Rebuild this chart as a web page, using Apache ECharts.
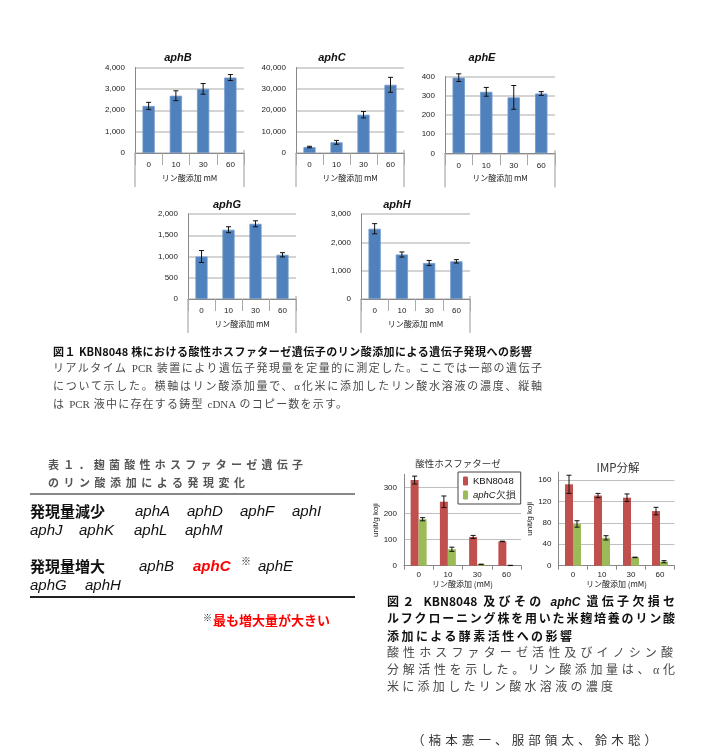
<!DOCTYPE html>
<html><head><meta charset="utf-8">
<script src="https://cdn.jsdelivr.net/npm/echarts@6/dist/echarts.min.js"></script>
<style>
html,body{margin:0;padding:0;background:#fff;}
#chart{position:absolute;left:0;top:0;width:705px;height:751px;}
.t{position:absolute;white-space:nowrap;font-family:"Noto Sans CJK JP",sans-serif;}
.j{position:absolute;text-align:justify;text-align-last:justify;font-family:"Noto Sans CJK JP",sans-serif;}
.g{font-family:"Liberation Sans",Arial,sans-serif;font-style:italic;}
.rule{position:absolute;height:0;}
</style></head>
<body><div id="chart"></div>
<script>
// ---------- data ----------
const doses = ['0', '10', '30', '60'];
const aphB_vals = [2200, 2680, 3000, 3530];
const aphB_errs = [170, 230, 250, 140];
const aphC_vals = [2800, 5000, 17900, 31900];
const aphC_errs = [350, 900, 1500, 3500];
const aphE_vals = [395, 321, 292, 312];
const aphE_errs = [20, 23, 62, 10];
const aphG_vals = [1000, 1630, 1770, 1040];
const aphG_errs = [140, 70, 70, 50];
const aphH_vals = [2480, 1570, 1270, 1330];
const aphH_errs = [180, 90, 90, 60];

const seriesNames = ['KBN8048', 'aphC欠損'];
const acid_KBN = [328, 245, 110, 93];
const acid_KBN_err = [15, 22, 6, 1];
const acid_del = [178, 63, 5, 1];
const acid_del_err = [6, 8, 1, 0.5];
const imp_KBN = [152, 131, 127, 102];
const imp_KBN_err = [17, 4, 7, 7];
const imp_del = [78, 52, 15.5, 7.5];
const imp_del_err = [6, 4, 0.5, 2];

const fig1AxisName = 'リン酸添加 mM';
const fig2AxisName = 'リン酸添加 (mM)';
const fig2YName = 'unit/g koji';
const fig2Titles = ['酸性ホスファターゼ', 'IMP分解'];

const fig1Caption = [
  '図１ KBN8048 株における酸性ホスファターゼ遺伝子のリン酸添加による遺伝子発現への影響',
  'リアルタイム PCR 装置により遺伝子発現量を定量的に測定した。ここでは一部の遺伝子',
  'について示した。横軸はリン酸添加量で、α化米に添加したリン酸水溶液の濃度、縦軸',
  'は PCR 液中に存在する鋳型 cDNA のコピー数を示す。'
];
const tableTitle = ['表１．麹菌酸性ホスファターゼ遺伝子', 'のリン酸添加による発現変化'];
const rowDecrease = '発現量減少';
const rowIncrease = '発現量増大';
const genesDecrease1 = ['aphA', 'aphD', 'aphF', 'aphI'];
const genesDecrease2 = ['aphJ', 'aphK', 'aphL', 'aphM'];
const genesIncrease1 = ['aphB', 'aphC', 'aphE'];
const genesIncrease2 = ['aphG', 'aphH'];
const noteText = '最も増大量が大きい';
const fig2Caption = [
  '図２ KBN8048 及びその <span class="g">aphC</span> 遺伝子欠損セ',
  'ルフクローニング株を用いた米麹培養のリン酸',
  '添加による酵素活性への影響',
  '酸性ホスファターゼ活性及びイノシン酸',
  '分解活性を示した。リン酸添加量は、α化',
  '米に添加したリン酸水溶液の濃度'
];
const authors = '（楠本憲一、服部領太、鈴木聡）';

// ---------- layout ----------
const fig1 = [
  {title:'aphB', vals:aphB_vals, errs:aphB_errs, max:4000, step:1000, L:135, T:67.5, W:109, H:85.5, tx:178, ty:58},
  {title:'aphC', vals:aphC_vals, errs:aphC_errs, max:40000, step:10000, L:296, T:67.5, W:108, H:85.5, tx:332, ty:58},
  {title:'aphE', vals:aphE_vals, errs:aphE_errs, max:400, step:100, L:445, T:76.7, W:110, H:76.6, tx:482, ty:58},
  {title:'aphG', vals:aphG_vals, errs:aphG_errs, max:2000, step:500, L:188, T:214, W:108, H:85, tx:227, ty:205},
  {title:'aphH', vals:aphH_vals, errs:aphH_errs, max:3000, step:1000, L:361, T:214, W:109, H:85, tx:397, ty:205}
];
const fig2 = [
  {title:fig2Titles[0], a:acid_KBN, ae:acid_KBN_err, b:acid_del, be:acid_del_err, max:350, step:100, L:404, T:474.3, W:117, H:91.4, tx:458, ty:463, tfs:9.5},
  {title:fig2Titles[1], a:imp_KBN, ae:imp_KBN_err, b:imp_del, be:imp_del_err, max:175, step:40, L:558.5, T:472, W:116, H:93.7, tx:618, ty:468, tfs:11.5}
];

const FONT = 'Liberation Sans';
function errRender(offset) {
  return function (params, api) {
    const x = api.value(0), v = api.value(1), e = api.value(2);
    const top = api.coord([x, v + e]);
    const bot = api.coord([x, v - e]);
    const cx = top[0] + offset, hw = 2.5;
    const st = {stroke:'#111', lineWidth:1};
    return {type:'group', children:[
      {type:'line', shape:{x1:cx, y1:top[1], x2:cx, y2:bot[1]}, style:st},
      {type:'line', shape:{x1:cx-hw, y1:top[1], x2:cx+hw, y2:top[1]}, style:st},
      {type:'line', shape:{x1:cx-hw, y1:bot[1], x2:cx+hw, y2:bot[1]}, style:st}
    ]};
  };
}
const fmtComma = v => Number(v).toLocaleString('en-US');

const grid = [], xAxis = [], yAxis = [], series = [], graphic = [];
fig1.forEach((p, i) => {
  grid.push({left:p.L, top:p.T, width:p.W, height:p.H});
  xAxis.push({type:'category', gridIndex:i, data:doses,
    axisLine:{lineStyle:{color:'#888'}},
    axisTick:{show:true, interval:0, length:12, lineStyle:{color:'#aaa'}},
    axisLabel:{interval:0, fontSize:8, margin:8, color:'#222', fontFamily:FONT},
    name:fig1AxisName, nameLocation:'middle', nameGap:21, nameTextStyle:{fontSize:8, color:'#222', fontFamily:'Noto Sans CJK JP'}});
  yAxis.push({type:'value', gridIndex:i, min:0, max:p.max, interval:p.step,
    axisLine:{show:true, lineStyle:{color:'#888'}}, axisTick:{show:false},
    splitLine:{lineStyle:{color:'#c6c6c6', width:1.5}},
    axisLabel:{fontSize:8, margin:10, color:'#222', fontFamily:FONT, formatter:fmtComma}});
  series.push({type:'bar', xAxisIndex:i, yAxisIndex:i, data:p.vals, barWidth:'45%',
    itemStyle:{color:'#4F81BD', borderColor:'#7199cc', borderWidth:0.8}});
  series.push({type:'custom', name:'err', xAxisIndex:i, yAxisIndex:i, z:5,
    data:p.vals.map((v, k) => [k, v, p.errs[k]]), encode:{x:0, y:1}, renderItem:errRender(0)});
  graphic.push({type:'text', x:p.tx, y:p.ty, style:{text:p.title, align:'center', verticalAlign:'middle',
    font:'bold italic 11px "Liberation Sans"', fill:'#111'}});
  const yb = p.T + p.H;
  graphic.push({type:'line', shape:{x1:p.L, y1:yb, x2:p.L, y2:yb + 34}, style:{stroke:'#999', lineWidth:1}});
  graphic.push({type:'line', shape:{x1:p.L + p.W, y1:yb - 3, x2:p.L + p.W, y2:yb + 34}, style:{stroke:'#999', lineWidth:1}});
});
fig2.forEach((p, j) => {
  const i = fig1.length + j;
  grid.push({left:p.L, top:p.T, width:p.W, height:p.H});
  xAxis.push({type:'category', gridIndex:i, data:doses,
    axisLine:{lineStyle:{color:'#888'}},
    axisTick:{show:true, interval:0, length:4, lineStyle:{color:'#888'}},
    axisLabel:{interval:0, fontSize:8, margin:5, color:'#222', fontFamily:FONT},
    name:fig2AxisName, nameLocation:'middle', nameGap:12, nameTextStyle:{fontSize:8, color:'#222', fontFamily:'Noto Sans CJK JP'}});
  yAxis.push({type:'value', gridIndex:i, min:0, max:p.max, interval:p.step,
    axisLine:{show:true, lineStyle:{color:'#888'}}, axisTick:{show:false},
    splitLine:{showMaxLine:false, lineStyle:{color:'#c0c0c0', width:1}},
    axisLabel:{fontSize:8, margin:7, color:'#222', fontFamily:FONT, showMaxLabel:false},
    name:fig2YName, nameLocation:'middle', nameGap:20, nameTextStyle:{fontSize:8, color:'#222', fontFamily:FONT}});
  series.push({type:'bar', name:seriesNames[0], xAxisIndex:i, yAxisIndex:i, data:p.a, barWidth:8, barGap:'0%',
    itemStyle:{color:'#C0504D'}});
  series.push({type:'bar', name:seriesNames[1], xAxisIndex:i, yAxisIndex:i, data:p.b, barWidth:8, barGap:'0%',
    itemStyle:{color:'#9BBB59'}});
  series.push({type:'custom', name:'errA', xAxisIndex:i, yAxisIndex:i, z:5,
    data:p.a.map((v, k) => [k, v, p.ae[k]]), encode:{x:0, y:1}, renderItem:errRender(-4)});
  series.push({type:'custom', name:'errB', xAxisIndex:i, yAxisIndex:i, z:5,
    data:p.b.map((v, k) => [k, v, p.be[k]]), encode:{x:0, y:1}, renderItem:errRender(4)});
  graphic.push({type:'text', x:p.tx, y:p.ty, style:{text:p.title, align:'center', verticalAlign:'middle',
    font:p.tfs + 'px "Noto Sans CJK JP"', fill:'#333'}});
});

const chart = echarts.init(document.getElementById('chart'), null, {renderer:'canvas'});
chart.setOption({
  animation:false,
  grid, xAxis, yAxis, series, graphic,
  legend:{left:458, top:472, orient:'vertical', data:seriesNames, itemWidth:5, itemHeight:9, itemGap:4,
    padding:[4,5,4,5], borderColor:'#444', borderWidth:1, backgroundColor:'#fff', selectedMode:false,
    textStyle:{fontSize:9.5, color:'#111', fontFamily:FONT, rich:{i:{fontStyle:'italic', fontSize:9.5, fontFamily:FONT}}},
    formatter: n => n === seriesNames[1] ? '{i|aphC}欠損' : n}
});

// ---------- html text ----------
function addText(html, o) {
  const d = document.createElement('div');
  d.className = o.j ? 'j' : 't';
  d.innerHTML = html;
  const lh = o.lh || Math.round(o.fs * 1.4);
  Object.assign(d.style, {left:o.x + 'px', top:(o.cy - lh / 2) + 'px', lineHeight:lh + 'px',
    fontSize:o.fs + 'px', fontWeight:o.fw || 'normal', color:o.c || '#111'});
  if (o.w) d.style.width = o.w + 'px';
  if (o.ff) d.style.fontFamily = o.ff;
  if (o.it) d.style.fontStyle = 'italic';
  document.body.appendChild(d);
}
function addRule(x, y, w, h, c) {
  const d = document.createElement('div');
  d.className = 'rule';
  Object.assign(d.style, {left:x + 'px', top:y + 'px', width:w + 'px', borderTop:h + 'px solid ' + c});
  document.body.appendChild(d);
}
const serifJP = '"Liberation Serif","Noto Sans CJK JP",serif';
const gene = '"Liberation Sans",Arial,sans-serif';

// Fig 1 caption
addText(fig1Caption[0], {x:53, cy:351, w:479, fs:11, fw:'bold', j:true, c:'#111'});
addText(fig1Caption[1], {x:53, cy:368, w:489, fs:11, j:true, c:'#4a4a4a', ff:serifJP});
addText(fig1Caption[2], {x:53, cy:386, w:489, fs:11, j:true, c:'#4a4a4a', ff:serifJP});
addText(fig1Caption[3], {x:53, cy:404, w:294, fs:11, j:true, c:'#4a4a4a', ff:serifJP});

// Table
addText(tableTitle[0], {x:48, cy:464, w:255, fs:11, fw:'bold', j:true, c:'#555'});
addText(tableTitle[1], {x:48, cy:482, w:197, fs:11, fw:'bold', j:true, c:'#555'});
addRule(30, 493, 325, 2, '#888');
addRule(30, 596, 325, 2, '#222');
addText(rowDecrease, {x:30, cy:510, fs:15, fw:'bold'});
[135, 187, 240, 292].forEach((x, k) => addText(genesDecrease1[k], {x, cy:510, fs:15, it:true, ff:gene}));
[30, 79, 134, 185].forEach((x, k) => addText(genesDecrease2[k], {x, cy:529, fs:15, it:true, ff:gene}));
addText(rowIncrease, {x:30, cy:565, fs:15, fw:'bold'});
addText(genesIncrease1[0], {x:139, cy:565, fs:15, it:true, ff:gene});
addText(genesIncrease1[1], {x:193, cy:565, fs:15, it:true, fw:'bold', ff:gene, c:'#ff0000'});
addText('※', {x:241, cy:561, fs:10, fw:'bold'});
addText(genesIncrease1[2], {x:258, cy:565, fs:15, it:true, ff:gene});
[30, 85].forEach((x, k) => addText(genesIncrease2[k], {x, cy:584, fs:15, it:true, ff:gene}));
addText('※', {x:203, cy:617, fs:9, fw:'bold'});
addText(noteText, {x:213, cy:620, fs:13, fw:'bold', c:'#ff0000'});

// Fig 2 caption
addText(fig2Caption[0], {x:387, cy:600, w:288, fs:12, fw:'bold', j:true});
addText(fig2Caption[1], {x:387, cy:617, w:288, fs:12, fw:'bold', j:true});
addText(fig2Caption[2], {x:387, cy:635, w:185, fs:12, fw:'bold', j:true});
addText(fig2Caption[3], {x:387, cy:653, w:286, fs:12, j:true, c:'#4a4a4a', ff:serifJP});
addText(fig2Caption[4], {x:387, cy:670, w:288, fs:12, j:true, c:'#4a4a4a', ff:serifJP});
addText(fig2Caption[5], {x:387, cy:687, w:226, fs:12, j:true, c:'#4a4a4a', ff:serifJP});

addText(authors, {x:412, cy:740, w:245, fs:12.5, j:true, c:'#333'});
</script></body></html>
